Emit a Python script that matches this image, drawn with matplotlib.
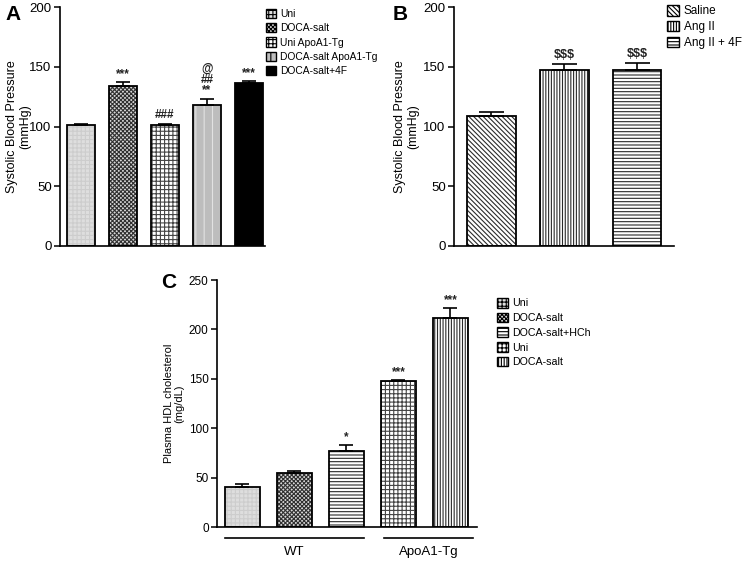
import matplotlib
matplotlib.use("Agg")
import matplotlib.pyplot as plt
import matplotlib.transforms as mtransforms
from matplotlib.patches import Patch

plt.rcParams["font.family"] = ["Liberation Sans", "DejaVu Sans"]
plt.rcParams["hatch.linewidth"] = 0.8

# ---- data ----
a_labels = ["Uni", "DOCA-salt", "Uni ApoA1-Tg", "DOCA-salt ApoA1-Tg", "DOCA-salt+4F"]
a_values = [101, 134, 101, 118, 136]
a_errors = [1.5, 3, 1.5, 5, 2]
a_marks = ["", "***", "###", "@\n##\n**", "***"]

b_labels = ["Saline", "Ang II", "Ang II + 4F"]
b_values = [109, 147, 147]
b_errors = [3, 5, 6]
b_marks = ["", "$$$", "$$$"]

c_labels = ["Uni", "DOCA-salt", "DOCA-salt+HCh", "Uni", "DOCA-salt"]
c_values = [40, 55, 77, 148, 212]
c_errors = [4, 2, 6, 1, 10]
c_marks = ["", "", "*", "***", "***"]
c_groups = ["WT", "ApoA1-Tg"]

# styles: (facecolor, hatch, hatchcolor)
STY = {
    "light": ("#dedede", "++++", "#cdcdcd"),
    "check": ("#d8d8d8", "xxxxxxxx", "#303030"),
    "grid": ("white", "++++", "#444444"),
    "vgray": ("#bdbdbd", "||", "#e2e2e2"),
    "black": ("black", None, "black"),
    "diag": ("white", "\\\\\\\\\\\\\\", "#2a2a2a"),
    "vert": ("white", "||||||", "#2a2a2a"),
    "horz": ("white", "-----", "#2a2a2a"),
}
W, H = 744, 562


def px_axes(fig, left, right, top, bottom):
    return fig.add_axes([left / W, 1 - bottom / H, (right - left) / W, (bottom - top) / H])


def draw_bars(ax, values, errors, styles, marks, width, capsize, mark_gap, mark_size):
    xs = list(range(len(values)))
    for x, v, s in zip(xs, values, styles):
        fc, hatch, hc = STY[s]
        ax.bar(x, v, width=width, color=fc, hatch=hatch, edgecolor=hc, linewidth=0, zorder=2)
        ax.bar(x, v, width=width, facecolor="none", edgecolor="black", linewidth=1.3, zorder=3)
    ax.errorbar(xs, values, yerr=[[0] * len(values), errors], fmt="none", ecolor="black",
                elinewidth=1.2, capsize=capsize, capthick=1.2, zorder=4)
    for x, v, e, m in zip(xs, values, errors, marks):
        if m:
            ax.text(x, v + e + mark_gap, m, ha="center", va="bottom", fontsize=mark_size,
                    fontweight="bold", linespacing=0.9, color="#222222")


def style_axes(ax, ylim, yticks, ylabel, size=9, labelsize=9, pad=2):
    ax.set_ylim(*ylim)
    ax.set_yticks(yticks)
    ax.set_xticks([])
    for sp in ["top", "right"]:
        ax.spines[sp].set_visible(False)
    ax.spines["left"].set_linewidth(1.2)
    ax.spines["bottom"].set_linewidth(1.2)
    ax.tick_params(axis="y", direction="out", length=4, width=1.1, labelsize=size, pad=2)
    ax.set_ylabel(ylabel, fontsize=labelsize, linespacing=1.1, labelpad=pad)


def legend(fig, labels, styles, x, y, fontsize=8, spacing=0.3):
    handles = []
    for s in styles:
        fc, hatch, hc = STY[s]
        handles.append(Patch(facecolor=fc, hatch=hatch, edgecolor="black", linewidth=1))
    fig.legend(handles, labels, loc="upper left", bbox_to_anchor=(x / W, 1 - y / H),
               frameon=False, fontsize=fontsize, handlelength=1.0, handleheight=1.0,
               handletextpad=0.4, labelspacing=spacing, borderpad=0, borderaxespad=0)


fig = plt.figure(figsize=(W / 100, H / 100), dpi=100)

# Panel A
a_sty = ["light", "check", "grid", "vgray", "black"]
axA = px_axes(fig, 60, 265, 7, 246)
draw_bars(axA, a_values, a_errors, a_sty, a_marks, 0.67, 5, 2, 8.5)
axA.set_xlim(-0.5, 4.38)
style_axes(axA, (0, 200), [0, 50, 100, 150, 200], "Systolic Blood Pressure\n(mmHg)",
           size=9.5, labelsize=9, pad=-1)
legend(fig, a_labels, a_sty, 266, 9, fontsize=7.4, spacing=0.4)
fig.text(5 / W, 1 - 14 / H, "A", fontsize=15, fontweight="bold", va="center")

# Panel B
b_sty = ["diag", "vert", "horz"]
axB = px_axes(fig, 454, 674, 7, 246)
draw_bars(axB, b_values, b_errors, b_sty, b_marks, 0.67, 9, 3, 9)
axB.set_xlim(-0.515, 2.51)
style_axes(axB, (0, 200), [0, 50, 100, 150, 200], "Systolic Blood Pressure\n(mmHg)",
           size=9.5, labelsize=9, pad=3)
legend(fig, b_labels, b_sty, 667, 5, fontsize=8.5, spacing=0.3)
fig.text(393 / W, 1 - 14 / H, "B", fontsize=15, fontweight="bold", va="center")

# Panel C
c_sty = ["light", "check", "horz", "grid", "vert"]
axC = px_axes(fig, 217, 477, 280, 527)
draw_bars(axC, c_values, c_errors, c_sty, c_marks, 0.67, 5, 2, 8.5)
axC.set_xlim(-0.49, 4.51)
style_axes(axC, (0, 250), [0, 50, 100, 150, 200, 250], "Plasma HDL cholesterol\n(mg/dL)",
           size=8.5, labelsize=8, pad=3)
legend(fig, c_labels, c_sty, 497, 298, fontsize=7.7, spacing=0.4)
fig.text(161 / W, 1 - 282 / H, "C", fontsize=15, fontweight="bold", va="center")

trans = mtransforms.blended_transform_factory(axC.transData, axC.transAxes)
for (x0, x1), g in zip([(-0.33, 2.33), (2.72, 4.43)], c_groups):
    axC.plot([x0, x1], [-0.045, -0.045], color="black", lw=1.2, transform=trans, clip_on=False)
    axC.text((x0 + x1) / 2, -0.075, g, ha="center", va="top", fontsize=9.5, transform=trans)

fig.savefig("out.png", dpi=100)
